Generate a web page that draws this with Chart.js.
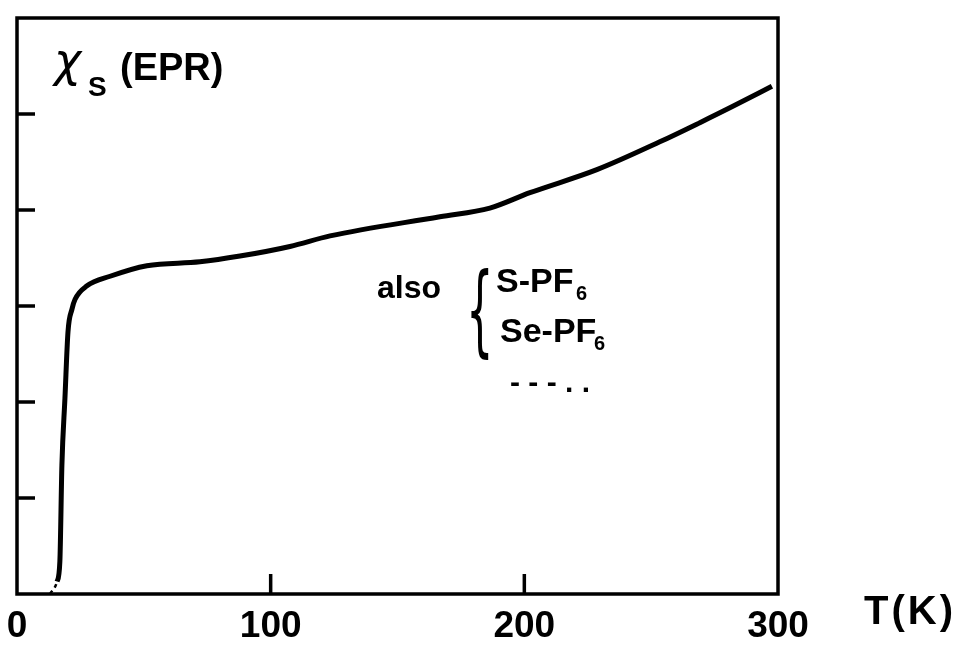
<!DOCTYPE html>
<html>
<head>
<meta charset="utf-8">
<script src="https://cdn.jsdelivr.net/npm/chart.js@4"></script>
<style>
  html, body { margin: 0; padding: 0; background: #fff; }
  #wrap { width: 979px; height: 645px; }
</style>
</head>
<body>
<div id="wrap"><canvas id="epr"></canvas></div>
<script>
  // temperature (K) and spin susceptibility (arb. units)
  const temps = [13, 15.8, 16.9, 17.7, 18.9, 20.1, 21.7, 22.9, 27.6, 36.7, 51.2, 72.1, 87.9, 107.6, 123.4, 166.7, 186.4, 202.2, 228.6, 253.4, 269.2, 282.2, 297.6];
  const chi   = [0, 0.13, 0.34, 1.34, 2.04, 2.73, 2.97, 3.07, 3.21, 3.31, 3.42, 3.46, 3.52, 3.62, 3.73, 3.93, 4.02, 4.18, 4.42, 4.71, 4.91, 5.08, 5.29];
  const xTicks = [0, 100, 200, 300];
  const yTicks = [1, 2, 3, 4, 5];

  const sans = '"Liberation Sans", sans-serif';

  const sketch = {
    id: 'sketch',
    afterDraw(chart) {
      const c = chart.ctx, a = chart.chartArea;
      const xs = chart.scales.x, ys = chart.scales.y;
      c.save();
      c.strokeStyle = '#000';
      c.lineWidth = 3.5;
      c.strokeRect(a.left, a.top, a.right - a.left, a.bottom - a.top);
      // inward tick marks
      c.beginPath();
      yTicks.forEach(v => {
        const y = ys.getPixelForValue(v);
        c.moveTo(a.left, y); c.lineTo(a.left + 18, y);
      });
      xTicks.slice(1, -1).forEach(v => {
        const x = xs.getPixelForValue(v);
        c.moveTo(x, a.bottom); c.lineTo(x, a.bottom - 20);
      });
      c.stroke();

      c.fillStyle = '#000';
      c.textBaseline = 'alphabetic';
      // axis titles
      c.font = 'oblique 46px "DejaVu Sans", sans-serif';
      c.fillText('χ', 54, 76);
      c.font = 'bold 28px ' + sans;
      c.fillText('S', 88, 96);
      c.font = 'bold 38px ' + sans;
      c.fillText('(EPR)', 120, 80);

      c.letterSpacing = '3px';
      c.font = 'bold 40px ' + sans;
      c.fillText('T(K)', 864, 624);
      c.letterSpacing = '0px';

      // note
      c.font = 'bold 32px ' + sans;
      c.fillText('also', 377, 298);
      c.save();
      c.translate(466, 344);
      c.scale(0.7, 1.6);
      c.font = '62px "DejaVu Sans", sans-serif';
      c.fillText('{', 0, 0);
      c.restore();
      c.font = 'bold 34px ' + sans;
      c.fillText('S-PF', 496, 292);
      c.fillText('Se-PF', 500, 342);
      c.font = 'bold 20px ' + sans;
      c.fillText('6', 576, 300);
      c.fillText('6', 594, 350);
      c.font = 'bold 30px ' + sans;
      c.fillText('- - - . .', 510, 392);
      c.restore();
    }
  };

  new Chart(document.getElementById('epr'), {
    type: 'line',
    data: {
      labels: temps,
      datasets: [{
        data: temps.map((t, i) => ({ x: t, y: chi[i] })),
        borderColor: '#000',
        borderWidth: 5,
        pointRadius: 0,
        cubicInterpolationMode: 'monotone',
        segment: {
          borderDash: ctx => ctx.p1.parsed.y < 0.2 ? [4, 4] : undefined,
          borderWidth: ctx => ctx.p1.parsed.y < 0.2 ? 2.5 : 5
        }
      }]
    },
    options: {
      responsive: true,
      maintainAspectRatio: false,
      animation: false,
      layout: { padding: { left: 17, top: 18, right: 201, bottom: 0 } },
      plugins: { legend: { display: false }, tooltip: { enabled: false } },
      scales: {
        x: {
          type: 'linear',
          min: 0, max: 300,
          afterBuildTicks: s => { s.ticks = xTicks.map(v => ({ value: v })); },
          afterFit: s => { s.height = 51; s.paddingLeft = 0; s.paddingRight = 0; },
          grid: { display: false, drawTicks: false },
          border: { display: false },
          ticks: {
            color: '#000',
            padding: 11,
            font: { family: sans, size: 37, weight: 'bold' }
          }
        },
        y: {
          display: false,
          min: 0, max: 6
        }
      }
    },
    plugins: [sketch]
  });
</script>
</body>
</html>
